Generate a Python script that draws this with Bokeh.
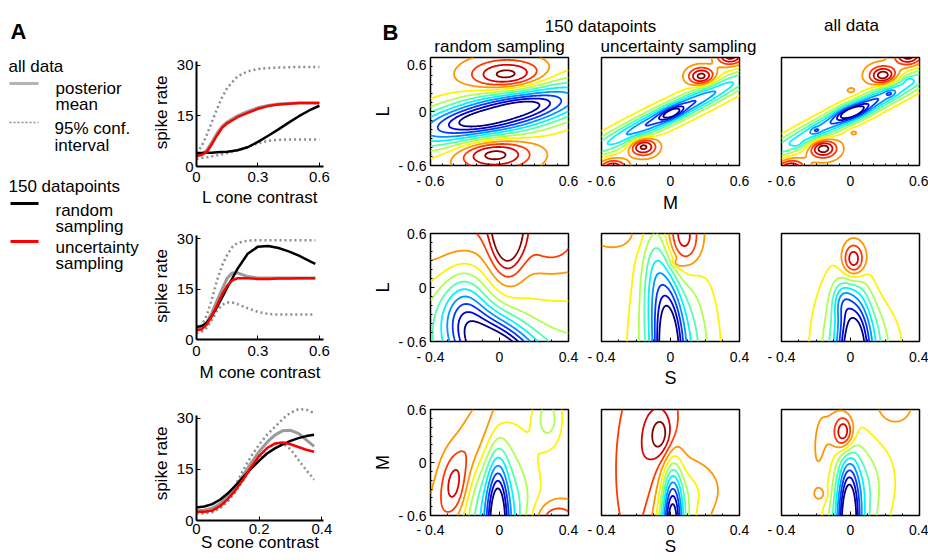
import numpy as np
from bokeh.plotting import figure
from bokeh.layouts import row, column
from bokeh.models import Range1d, FixedTicker, CustomJSTickFormatter
from bokeh.core.properties import value
from bokeh.embed import file_html
from bokeh.resources import INLINE

FONT = "Liberation Sans"

# ---------------- Panel A data (spike rate vs cone contrast) ----------------
L_X = [0, 0.025, 0.05, 0.075, 0.1, 0.125, 0.15, 0.2, 0.25, 0.3, 0.35, 0.4, 0.45, 0.5, 0.55, 0.6]
L_UPPER = [4.0, 6.0, 9.3, 13.2, 17.0, 20.5, 23.3, 26.7, 28.2, 28.9, 29.2, 29.3, 29.4, 29.5, 29.5, 29.5]
L_LOWER = [2.3, 2.5, 2.7, 3.0, 3.3, 3.6, 4.0, 4.8, 5.8, 6.9, 7.6, 7.9, 8.0, 8.0, 8.0, 8.0]
L_MEAN = [3.2, 3.6, 4.8, 7.2, 9.8, 11.9, 13.2, 15.0, 16.3, 17.4, 18.1, 18.5, 18.7, 18.8, 18.8, 18.8]
L_RANDOM = [4.0, 4.0, 4.1, 4.1, 4.2, 4.3, 4.4, 4.8, 5.7, 7.3, 9.1, 11.0, 13.0, 14.9, 16.6, 18.0]
L_UNCERT = [3.2, 3.4, 4.3, 6.6, 9.2, 11.5, 12.8, 14.6, 15.9, 17.1, 17.9, 18.4, 18.6, 18.8, 18.8, 18.8]

M_X = [0, 0.025, 0.05, 0.075, 0.1, 0.125, 0.15, 0.175, 0.2, 0.25, 0.3, 0.35, 0.4, 0.45, 0.5, 0.55, 0.58]
M_UPPER = [3.0, 4.2, 7.2, 12.0, 17.5, 22.0, 25.2, 27.5, 28.7, 29.4, 29.5, 29.5, 29.5, 29.5, 29.5, 29.5, 29.5]
M_LOWER = [2.0, 2.3, 3.5, 5.8, 8.5, 10.3, 11.0, 11.0, 10.5, 9.3, 8.2, 7.6, 7.4, 7.4, 7.4, 7.4, 7.4]
M_MEAN = [3.0, 3.3, 5.0, 8.0, 11.5, 15.0, 18.2, 19.8, 19.8, 18.7, 18.3, 18.3, 18.3, 18.3, 18.3, 18.3, 18.3]
M_RANDOM = [3.7, 4.0, 5.0, 7.0, 9.6, 12.5, 15.5, 18.2, 21.0, 25.5, 27.6, 27.8, 27.2, 26.2, 24.9, 23.4, 22.5]
M_UNCERT = [2.8, 3.0, 4.4, 7.0, 10.2, 13.4, 16.0, 17.6, 18.2, 18.2, 18.0, 18.0, 18.1, 18.1, 18.2, 18.2, 18.2]

S_X = [0, 0.025, 0.05, 0.075, 0.1, 0.125, 0.15, 0.175, 0.2, 0.225, 0.25, 0.275, 0.3, 0.325, 0.35, 0.375]
S_UPPER = [2.3, 2.4, 2.7, 4.0, 6.5, 10.5, 15.0, 19.0, 22.3, 25.2, 27.5, 29.8, 31.7, 32.7, 32.6, 31.6]
S_LOWER = [2.0, 2.1, 2.4, 3.6, 5.6, 8.5, 12.0, 15.5, 18.6, 21.2, 22.5, 22.6, 20.9, 17.8, 14.8, 12.0]
S_MEAN = [2.8, 3.0, 3.6, 5.0, 7.2, 10.0, 13.4, 17.0, 20.3, 23.0, 25.1, 26.4, 26.5, 25.6, 23.7, 21.8]
S_RANDOM = [3.8, 4.1, 4.8, 6.1, 8.0, 10.3, 12.8, 15.3, 17.6, 19.7, 21.2, 22.4, 23.4, 24.2, 24.8, 25.2]
S_UNCERT = [2.6, 2.6, 2.9, 4.2, 6.3, 9.0, 12.2, 15.8, 19.0, 21.3, 22.6, 22.9, 22.4, 21.6, 20.8, 20.2]

# ---------------- Panel B data (posterior mean surfaces) ----------------
# each surface: base plane [b0, bx, by] + bumps [cx, cy, sx, sy, theta_deg, amplitude]
LM_RANDOM_BASE = [7.6, 0.0, 0.0]
LM_RANDOM_BUMPS = [[0.0, -0.03, 0.60, 0.16, 17, -8.6],
                   [-0.20, -0.10, 0.15, 0.06, 10, -0.8],
                   [0.20, 0.06, 0.15, 0.06, 10, -0.8],
                   [0.07, 0.40, 0.22, 0.12, 0, 4.0],
                   [-0.05, -0.47, 0.22, 0.12, 0, 4.0]]
LM_UNCERT_BASE = [7.5, 0.0, 0.0]
LM_UNCERT_BUMPS = [[0.0, -0.02, 0.62, 0.075, 32, -6.0],
                   [0.01, -0.02, 0.07, 0.04, 32, -3.0],
                   [0.27, 0.39, 0.08, 0.07, 0, 3.9],
                   [-0.24, -0.39, 0.08, 0.07, 0, 3.9],
                   [0.52, 0.62, 0.08, 0.07, 0, 4.0],
                   [-0.50, -0.64, 0.08, 0.07, 0, 3.9]]
LM_ALL_BASE = [7.7, 0.0, 0.0]
LM_ALL_BUMPS = [[0.0, -0.02, 0.70, 0.075, 33, -5.5],
                [0.01, -0.01, 0.09, 0.05, 20, -3.5],
                [0.08, 0.04, 0.20, 0.05, 33, -1.0],
                [-0.30, -0.21, 0.03, 0.025, 0, -1.0],
                [0.34, 0.20, 0.03, 0.025, 0, -1.0],
                [-0.46, -0.36, 0.03, 0.03, 0, -0.8],
                [0.50, 0.35, 0.03, 0.03, 0, -0.8],
                [0.285, 0.40, 0.08, 0.07, 0, 4.0],
                [-0.24, -0.41, 0.08, 0.07, 0, 4.0],
                [0.50, 0.62, 0.08, 0.07, 0, 3.8],
                [-0.52, -0.64, 0.08, 0.07, 0, 3.8],
                [0.01, 0.23, 0.035, 0.03, 0, 0.6],
                [0.02, -0.23, 0.035, 0.03, 0, 0.6]]

SL_RANDOM_BASE = [7.4, 0.0, 2.6]
SL_RANDOM_BUMPS = [[0.0, -0.75, 0.15, 0.38, 20, -8.5],
                   [-0.20, -0.15, 0.09, 0.30, 0, -2.5],
                   [0.045, 0.70, 0.065, 0.35, 0, 5.5],
                   [0.30, 0.40, 0.10, 0.15, 0, 0.8]]
SL_UNCERT_BASE = [7.5, 0.0, 0.0]
SL_UNCERT_BUMPS = [[-0.01, -0.75, 0.05, 0.50, 0, -6.0],
                   [0.02, -0.75, 0.13, 0.60, 0, -4.5],
                   [-0.08, 0.10, 0.06, 0.45, 0, -3.0],
                   [0.07, 0.55, 0.07, 0.25, 0, 3.4],
                   [0.04, 0.27, 0.025, 0.03, 0, 1.2],
                   [-0.33, 0.62, 0.12, 0.15, 0, 1.0]]
SL_ALL_BASE = [7.5, 0.0, 0.0]
SL_ALL_BUMPS = [[0.02, -0.75, 0.06, 0.45, 0, -6.0],
                [0.03, -0.75, 0.13, 0.55, 0, -4.5],
                [-0.05, -0.15, 0.04, 0.15, 0, -2.0],
                [0.017, 0.30, 0.045, 0.14, 0, 4.0],
                [0.20, 0.10, 0.10, 0.30, 0, 0.8]]

SM_RANDOM_BASE = [7.5, 0.0, 0.0]
SM_RANDOM_BUMPS = [[-0.01, -0.75, 0.04, 0.50, 0, -6.0],
                   [-0.01, -0.70, 0.13, 0.60, 0, -4.5],
                   [-0.20, 0.00, 0.08, 0.60, -12, 2.0],
                   [-0.26, -0.28, 0.05, 0.25, 0, 1.6],
                   [0.28, 0.50, 0.05, 0.20, 0, -2.0],
                   [0.33, -0.66, 0.10, 0.15, 0, 2.5]]
SM_UNCERT_BASE = [8.4, 0.0, 0.0]
SM_UNCERT_BUMPS = [[0.01, -0.75, 0.04, 0.50, 0, -7.0],
                   [0.01, -0.75, 0.10, 0.55, 0, -4.0],
                   [-0.10, -0.10, 0.14, 0.80, 0, 2.0],
                   [-0.05, 0.30, 0.05, 0.18, 0, 2.2],
                   [0.15, -0.30, 0.10, 0.20, 0, -0.8]]
SM_ALL_BASE = [7.4, 0.0, 0.0]
SM_ALL_BUMPS = [[-0.01, -0.75, 0.04, 0.50, 0, -6.5],
                [-0.01, -0.70, 0.10, 0.55, 0, -4.0],
                [-0.037, 0.33, 0.04, 0.14, 0, 4.2],
                [-0.15, -0.10, 0.07, 0.60, 0, 1.2],
                [-0.17, -0.36, 0.03, 0.06, 0, 0.8],
                [0.25, 0.65, 0.10, 0.20, 0, 1.0],
                [0.08, -0.20, 0.12, 0.30, 0, -1.0]]

LEVELS = list(range(12))
COL_TITLES = ["random sampling", "uncertainty sampling"]


def jet_hex(t):
    r = min(max(1.5 - abs(4 * t - 3), 0), 1)
    g = min(max(1.5 - abs(4 * t - 2), 0), 1)
    b = min(max(1.5 - abs(4 * t - 1), 0), 1)
    return "#%02x%02x%02x" % (int(r * 255), int(g * 255), int(b * 255))


JET = [jet_hex(i / (len(LEVELS) - 1)) for i in LEVELS]


def surface(xs, ys, base, bumps):
    X, Y = np.meshgrid(xs, ys)
    Z = base[0] + base[1] * X + base[2] * Y
    for cx, cy, sx, sy, th, amp in bumps:
        t = np.deg2rad(th)
        u = (X - cx) * np.cos(t) + (Y - cy) * np.sin(t)
        v = -(X - cx) * np.sin(t) + (Y - cy) * np.cos(t)
        Z = Z + amp * np.exp(-0.5 * ((u / sx) ** 2 + (v / sy) ** 2))
    return Z


def style_axis(ax, tick_size, label_size, standoff, label_standoff):
    ax.major_label_text_font = FONT
    ax.major_label_text_font_size = tick_size
    ax.axis_label_text_font = FONT
    ax.axis_label_text_font_size = label_size
    ax.axis_label_text_font_style = "normal"
    ax.axis_line_color = "black"
    ax.major_tick_in = 4
    ax.major_tick_out = 0
    ax.minor_tick_in = 2
    ax.minor_tick_out = 0
    ax.major_label_text_color = "black"
    ax.axis_label_text_color = "black"
    ax.major_label_standoff = standoff
    ax.axis_label_standoff = label_standoff


# ---------------- legend column ----------------
leg = figure(width=148, height=560, x_range=Range1d(0, 148), y_range=Range1d(560, 0),
             x_axis_location=None, y_axis_location=None, output_backend="svg",
             toolbar_location=None, min_border=0)
leg.outline_line_color = None
leg.grid.visible = False
leg.text(x=[10], y=[31], text=["A"], text_font=value(FONT), text_font_size="22px",
         text_font_style="bold", text_baseline="alphabetic", text_color="black")
leg.text(x=[8, 55, 55, 54, 54, 8, 55, 55, 55, 55],
         y=[66, 88, 104, 128, 145, 186, 210, 226, 247, 263],
         text=["all data", "posterior", "mean", "95% conf.", "interval", "150 datapoints",
               "random", "sampling", "uncertainty", "sampling"],
         text_font=value(FONT), text_font_size="17px", text_baseline="alphabetic",
         text_color="black")
leg.line(x=[9, 38], y=[83, 83], line_color="#b4b4b4", line_width=3)
leg.line(x=[9, 38], y=[122, 122], line_color="#8c8c8c", line_width=1.5, line_dash="2 2")
leg.line(x=[10, 38], y=[203, 203], line_color="black", line_width=3)
leg.line(x=[10, 38], y=[241, 241], line_color="red", line_width=3)


# ---------------- panel A ----------------
def a_fig(height, top, bottom, x_end, xticks, y_end, xlabel, xs, upper, lower, mean, rnd, unc,
          standoff, label_standoff):
    p = figure(width=222, height=height, x_range=Range1d(0, x_end), y_range=Range1d(0, y_end),
               output_backend="svg", toolbar_location=None,
               min_border_left=43, min_border_right=47, min_border_top=top, min_border_bottom=bottom)
    p.outline_line_color = None
    p.grid.visible = False
    p.xaxis.ticker = FixedTicker(ticks=xticks)
    p.yaxis.ticker = FixedTicker(ticks=[0, 15, 30])
    p.xaxis.axis_label = xlabel
    p.yaxis.axis_label = "spike rate"
    style_axis(p.xaxis[0], "15px", "17px", standoff, label_standoff)
    style_axis(p.yaxis[0], "15px", "17px", 3, 3)
    p.xaxis.axis_line_width = 2
    p.yaxis.axis_line_width = 2
    p.yaxis.bounds = (0, min(y_end, 31))
    p.line(xs, upper, line_color="#8c8c8c", line_width=2.5, line_dash="2 3")
    p.line(xs, lower, line_color="#8c8c8c", line_width=2.5, line_dash="2 3")
    p.line(xs, mean, line_color="#9a9a9a", line_width=3)
    p.line(xs, rnd, line_color="black", line_width=2.5)
    p.line(xs, unc, line_color="red", line_width=2.5)
    return p


a1 = a_fig(215, 58, 49, 0.62, [0, 0.3, 0.6], 32, "L cone contrast",
           L_X, L_UPPER, L_LOWER, L_MEAN, L_RANDOM, L_UNCERT, 5, 3)
a2 = a_fig(175, 17, 51, 0.62, [0, 0.3, 0.6], 31.8, "M cone contrast",
           M_X, M_UPPER, M_LOWER, M_MEAN, M_RANDOM, M_UNCERT, 6, 4)
a3 = a_fig(170, 16, 40, 0.405, [0, 0.2, 0.4], 33.5, "S cone contrast",
           S_X, S_UPPER, S_LOWER, S_MEAN, S_RANDOM, S_UNCERT, 3, -4)
colA = column(a1, a2, a3)

# ---------------- panel B ----------------
title = figure(width=558, height=56, x_range=Range1d(370, 928), y_range=Range1d(56, 0),
               x_axis_location=None, y_axis_location=None, output_backend="svg",
               toolbar_location=None, min_border=0)
title.outline_line_color = None
title.grid.visible = False
title.text(x=[382], y=[32], text=["B"], text_font=value(FONT), text_font_size="22px",
           text_font_style="bold", text_baseline="alphabetic", text_color="black")
title.text(x=[600, 851, 499, 678], y=[26, 25, 46, 46],
           text=["150 datapoints", "all data"] + COL_TITLES,
           text_font=value(FONT), text_font_size="17px", text_baseline="alphabetic",
           text_align="center", text_color="black")

FMT = CustomJSTickFormatter(code="return tick < 0 ? '- ' + (-tick).toString() : tick.toString();")
COLW = [(215, 60, 17), (176, 16, 22), (167, 20, 9)]


def c_fig(ci, height, top, bottom, xr, yr, xt, yt, base, bumps, xlabel, ylabel,
          standoff, label_standoff, label_size):
    w, left, right = COLW[ci]
    p = figure(width=w, height=height, x_range=Range1d(*xr), y_range=Range1d(*yr),
               output_backend="svg", toolbar_location=None,
               min_border_left=left, min_border_right=right, min_border_top=top,
               min_border_bottom=bottom)
    p.grid.visible = False
    p.outline_line_color = "black"
    p.outline_line_width = 1.5
    xminor = list(np.round(np.arange(xr[0], xr[1] + 1e-9, 0.1), 2))
    yminor = list(np.round(np.arange(yr[0], yr[1] + 1e-9, 0.1), 2))
    p.xaxis.ticker = FixedTicker(ticks=xt, minor_ticks=xminor)
    p.yaxis.ticker = FixedTicker(ticks=yt, minor_ticks=yminor)
    p.xaxis.formatter = FMT
    p.yaxis.formatter = FMT
    style_axis(p.xaxis[0], "14px", label_size, standoff, label_standoff)
    style_axis(p.yaxis[0], "14px", "18px", 4, 2)
    p.xaxis.axis_line_color = None
    p.yaxis.axis_line_color = None
    if xlabel:
        p.xaxis.axis_label = xlabel
    if ylabel:
        p.yaxis.axis_label = ylabel
    else:
        p.yaxis.visible = False
    xs = np.linspace(xr[0], xr[1], 161)
    ys = np.linspace(yr[0], yr[1], 161)
    Z = surface(xs, ys, base, bumps)
    p.contour(x=xs, y=ys, z=Z, levels=LEVELS, line_color=JET, line_width=1.8)
    return p


LM = (-0.6, 0.6)
SR = (-0.4, 0.4)
TLM = [-0.6, 0, 0.6]
TS = [-0.4, 0, 0.4]

R1 = dict(height=159, top=1, bottom=49, standoff=7, label_standoff=1, label_size="18px")
R2 = dict(height=175, top=18, bottom=48, standoff=7, label_standoff=0, label_size="18px")
R3 = dict(height=170, top=19, bottom=45, standoff=6, label_standoff=-4, label_size="17px")

r1 = row(c_fig(0, xr=LM, yr=LM, xt=TLM, yt=TLM, base=LM_RANDOM_BASE, bumps=LM_RANDOM_BUMPS, xlabel=None, ylabel="L", **R1),
         c_fig(1, xr=LM, yr=LM, xt=TLM, yt=TLM, base=LM_UNCERT_BASE, bumps=LM_UNCERT_BUMPS, xlabel="M", ylabel=None, **R1),
         c_fig(2, xr=LM, yr=LM, xt=TLM, yt=TLM, base=LM_ALL_BASE, bumps=LM_ALL_BUMPS, xlabel=None, ylabel=None, **R1))
r2 = row(c_fig(0, xr=SR, yr=LM, xt=TS, yt=TLM, base=SL_RANDOM_BASE, bumps=SL_RANDOM_BUMPS, xlabel=None, ylabel="L", **R2),
         c_fig(1, xr=SR, yr=LM, xt=TS, yt=TLM, base=SL_UNCERT_BASE, bumps=SL_UNCERT_BUMPS, xlabel="S", ylabel=None, **R2),
         c_fig(2, xr=SR, yr=LM, xt=TS, yt=TLM, base=SL_ALL_BASE, bumps=SL_ALL_BUMPS, xlabel=None, ylabel=None, **R2))
r3 = row(c_fig(0, xr=SR, yr=LM, xt=TS, yt=TLM, base=SM_RANDOM_BASE, bumps=SM_RANDOM_BUMPS, xlabel=None, ylabel="M", **R3),
         c_fig(1, xr=SR, yr=LM, xt=TS, yt=TLM, base=SM_UNCERT_BASE, bumps=SM_UNCERT_BUMPS, xlabel="S", ylabel=None, **R3),
         c_fig(2, xr=SR, yr=LM, xt=TS, yt=TLM, base=SM_ALL_BASE, bumps=SM_ALL_BUMPS, xlabel=None, ylabel=None, **R3))
colB = column(title, r1, r2, r3)

layout = row(leg, colA, colB)
open("out.html", "w").write(file_html(layout, INLINE))
